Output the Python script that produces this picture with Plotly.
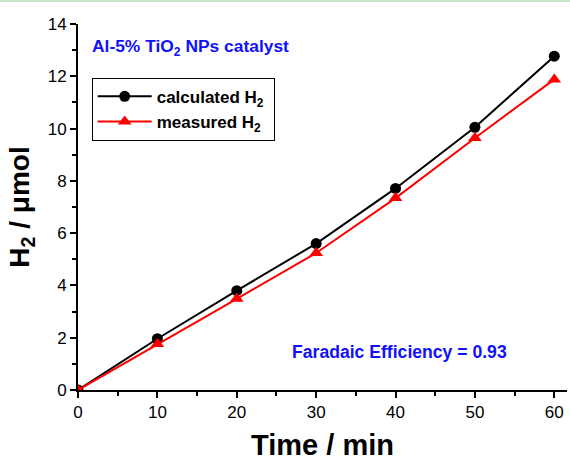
import plotly.graph_objects as go

time_min = [0, 10, 20, 30, 40, 50, 60]
calculated_h2 = [0, 1.96, 3.80, 5.60, 7.71, 10.05, 12.77]
measured_h2 = [0, 1.76, 3.49, 5.24, 7.34, 9.64, 11.88]

x_ticks = [0, 10, 20, 30, 40, 50, 60]
y_ticks = [0, 2, 4, 6, 8, 10, 12, 14]

FONT = "Liberation Sans, Arial, sans-serif"

fig = go.Figure()
fig.add_trace(go.Scatter(
    x=time_min, y=calculated_h2, mode="lines+markers",
    name="<b>calculated H<sub>2</sub></b>&nbsp;",
    line=dict(color="black", width=2),
    marker=dict(symbol="circle", size=11, color="black"),
))
fig.add_trace(go.Scatter(
    x=time_min, y=measured_h2, mode="lines+markers",
    name="<b>measured H<sub>2</sub></b>",
    line=dict(color="#ff0000", width=2),
    marker=dict(symbol="triangle-up", size=12, color="#ff0000"),
))

axis_common = dict(
    showline=True, linecolor="black", linewidth=2,
    ticks="outside", ticklen=6, tickwidth=2, tickcolor="black",
    showgrid=False, zeroline=False, mirror=False, automargin=False,
    tickfont=dict(family=FONT, size=17, color="black"),
)

fig.update_xaxes(
    range=[0, 61.6], tickvals=x_ticks,
    minor=dict(dtick=5, tick0=0, ticks="outside", ticklen=4, tickwidth=2, tickcolor="black"),
    title=dict(text="<b>Time / min</b>", font=dict(family=FONT, size=29, color="black"), standoff=20),
    **axis_common,
)
fig.update_yaxes(
    range=[0, 14], tickvals=y_ticks,
    minor=dict(dtick=1, tick0=0, ticks="outside", ticklen=4, tickwidth=2, tickcolor="black"),
    title=dict(text="<b>H<sub>2</sub> / μmol</b>", font=dict(family=FONT, size=28, color="black"), standoff=10),
    **axis_common,
)

fig.add_annotation(
    x=0.024, y=0.937, xref="paper", yref="paper", xanchor="left", yanchor="middle",
    text="<b>Al-5% TiO<sub>2</sub> NPs catalyst</b>", showarrow=False,
    font=dict(family=FONT, size=17.4, color="#1010ff"),
)
fig.add_annotation(
    x=0.433, y=0.105, xref="paper", yref="paper", xanchor="left", yanchor="middle",
    text="<b>Faradaic Efficiency = 0.93</b>", showarrow=False,
    font=dict(family=FONT, size=17.6, color="#1010ff"),
)

fig.add_shape(type="line", xref="paper", yref="paper", x0=-1, x1=2, y0=1.0642, y1=1.0642,
              line=dict(color="#c8e6c8", width=3))

fig.update_layout(
    width=570, height=461,
    margin=dict(l=78, r=3, t=24, b=71),
    paper_bgcolor="white", plot_bgcolor="white",
    showlegend=True,
    legend=dict(
        x=0.028, y=0.853, xanchor="left", yanchor="top",
        bordercolor="black", borderwidth=1, bgcolor="white",
        font=dict(family=FONT, size=17, color="black"),
        itemwidth=54, tracegroupgap=0,
    ),
)

fig.write_html("out.html", config={"displayModeBar": False},
               post_script="document.body.style.margin='0';")
